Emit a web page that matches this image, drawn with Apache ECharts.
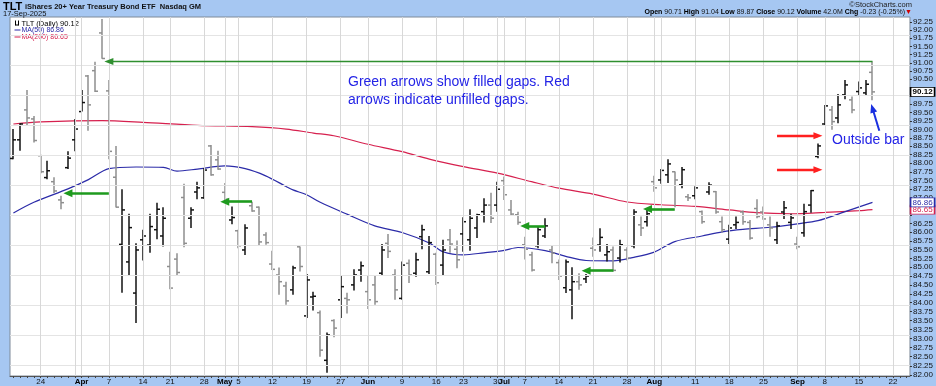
<!DOCTYPE html>
<html><head><meta charset="utf-8">
<script src="https://cdn.jsdelivr.net/npm/echarts@6/dist/echarts.min.js"></script>
<style>html,body{margin:0;padding:0;background:#fff}#c{width:936px;height:386px}</style>
</head><body><div id="c"></div>
<script>
// ---------- DATA ----------
const dates = [
'2025-03-18','2025-03-19','2025-03-20','2025-03-21','2025-03-24','2025-03-25','2025-03-26','2025-03-27','2025-03-28','2025-03-31',
'2025-04-01','2025-04-02','2025-04-03','2025-04-04','2025-04-07','2025-04-08','2025-04-09','2025-04-10','2025-04-11','2025-04-14','2025-04-15','2025-04-16','2025-04-17','2025-04-21','2025-04-22','2025-04-23','2025-04-24','2025-04-25','2025-04-28','2025-04-29','2025-04-30',
'2025-05-01','2025-05-02','2025-05-05','2025-05-06','2025-05-07','2025-05-08','2025-05-09','2025-05-12','2025-05-13','2025-05-14','2025-05-15','2025-05-16','2025-05-19','2025-05-20','2025-05-21','2025-05-22','2025-05-23','2025-05-27','2025-05-28','2025-05-29','2025-05-30',
'2025-06-02','2025-06-03','2025-06-04','2025-06-05','2025-06-06','2025-06-09','2025-06-10','2025-06-11','2025-06-12','2025-06-13','2025-06-16','2025-06-17','2025-06-18','2025-06-20','2025-06-23','2025-06-24','2025-06-25','2025-06-26','2025-06-27','2025-06-30',
'2025-07-01','2025-07-02','2025-07-03','2025-07-07','2025-07-08','2025-07-09','2025-07-10','2025-07-11','2025-07-14','2025-07-15','2025-07-16','2025-07-17','2025-07-18','2025-07-21','2025-07-22','2025-07-23','2025-07-24','2025-07-25','2025-07-28','2025-07-29','2025-07-30','2025-07-31',
'2025-08-01','2025-08-04','2025-08-05','2025-08-06','2025-08-07','2025-08-08','2025-08-11','2025-08-12','2025-08-13','2025-08-14','2025-08-15','2025-08-18','2025-08-19','2025-08-20','2025-08-21','2025-08-22','2025-08-25','2025-08-26','2025-08-27','2025-08-28','2025-08-29',
'2025-09-02','2025-09-03','2025-09-04','2025-09-05','2025-09-08','2025-09-09','2025-09-10','2025-09-11','2025-09-12','2025-09-15','2025-09-16','2025-09-17',
'2025-09-18','2025-09-19','2025-09-22','2025-09-23','2025-09-24'
];
const opens = [88.14,88.69,89.58,89.31,88.22,87.58,87.46,86.93,87.87,88.69,
89.53,90.60,90.76,91.91,90.15,87.59,85.65,85.15,84.27,85.78,85.63,86.07,85.89,85.02,85.23,87.00,86.40,87.16,86.99,88.51,88.10,
87.15,86.35,86.04,85.49,86.76,86.72,85.92,85.09,84.78,84.47,84.36,85.58,83.63,84.16,83.72,82.40,83.50,84.08,84.12,84.50,84.92,
84.31,84.50,84.83,85.68,84.78,84.12,85.11,84.83,85.87,84.87,85.37,85.06,85.78,85.51,85.95,85.78,86.12,86.59,86.78,86.78,
87.49,86.64,86.50,85.64,85.35,85.61,85.89,85.49,85.13,84.42,84.36,84.59,84.67,85.54,85.63,85.35,85.49,85.26,85.49,85.61,86.21,86.30,
87.46,87.51,87.66,87.75,87.37,87.02,87.05,86.59,87.16,87.17,86.30,85.80,86.21,86.58,86.28,86.68,86.58,86.21,85.78,86.58,86.28,
85.66,85.98,86.78,88.20,89.16,89.58,89.34,90.03,89.88,90.13,90.09,90.71];
const highs = [89.01,89.18,90.18,89.40,88.25,88.07,87.59,87.05,88.35,89.31,
90.18,90.63,91.03,92.34,90.48,88.51,87.24,86.53,85.68,86.07,86.53,86.85,86.72,85.44,85.40,87.40,86.72,87.46,87.86,88.54,88.37,
87.42,86.74,86.07,86.23,86.88,86.74,86.00,85.47,84.99,84.59,85.04,85.59,84.81,84.31,83.78,83.17,83.54,84.75,84.28,84.94,85.16,
84.75,84.75,85.66,85.95,84.94,85.16,85.22,85.41,86.21,85.89,85.41,85.78,86.09,85.76,86.43,86.66,86.53,86.98,87.14,87.46,
87.61,86.93,86.59,85.87,85.44,86.16,86.40,85.61,85.22,85.22,85.00,84.83,84.81,85.85,86.11,85.66,85.59,85.78,85.57,86.66,86.45,86.66,
87.63,87.83,88.12,87.76,87.89,87.10,87.33,86.62,87.44,87.19,86.45,86.21,86.45,86.62,86.35,86.95,86.74,86.45,86.30,86.90,86.53,
85.87,86.82,87.22,88.58,89.73,89.70,90.06,90.48,89.98,90.43,90.48,91.04];
const lows = [88.12,88.37,89.13,88.61,87.71,87.53,87.13,86.66,87.83,88.35,
89.53,88.96,90.12,91.12,88.12,86.71,84.28,84.75,83.43,85.19,85.41,85.80,85.59,84.38,84.78,85.57,86.12,86.95,86.96,87.63,87.81,
86.93,86.23,85.54,85.35,86.59,85.61,85.64,84.92,84.22,83.94,84.22,84.88,83.57,83.78,82.50,82.06,83.04,83.57,83.70,84.34,84.59,
83.82,83.94,84.78,85.26,84.08,84.08,84.55,84.73,85.51,84.81,84.50,84.75,85.41,84.97,85.44,85.47,85.83,86.28,86.26,86.59,
86.93,86.47,86.21,85.22,84.88,85.54,85.83,85.11,84.64,84.27,83.54,84.36,84.55,85.30,85.44,85.16,84.88,85.13,85.19,85.54,85.89,86.16,
87.17,87.40,87.42,86.72,87.27,86.90,86.95,86.24,87.08,86.53,85.99,85.66,86.09,86.21,85.78,86.40,86.36,85.87,85.66,86.38,86.09,
85.51,85.87,86.56,88.15,89.11,88.99,89.18,89.90,89.48,90.03,90.03,89.87];
const closes = [88.69,89.16,89.34,88.67,87.75,87.78,87.19,86.85,88.15,89.01,
89.80,89.73,90.14,91.13,88.35,86.72,86.64,86.13,85.49,85.89,86.16,86.66,86.40,84.41,84.85,85.68,86.64,87.28,87.80,87.66,87.83,
86.95,86.42,85.61,86.12,86.61,85.72,85.70,84.94,84.59,84.05,84.98,85.02,84.64,84.18,82.68,83.10,83.29,84.45,84.08,84.78,85.04,
84.08,84.03,85.49,85.45,84.36,85.06,84.78,85.21,86.07,85.70,84.56,85.49,85.66,85.21,86.30,86.40,86.50,86.78,86.40,87.24,
87.08,86.52,86.28,85.51,84.92,86.07,86.18,85.40,84.75,85.15,84.59,84.50,84.75,85.49,85.85,85.44,84.91,85.64,85.26,86.58,86.12,86.53,
87.28,87.79,87.98,87.51,87.81,86.99,87.28,86.30,87.36,86.58,86.07,86.12,86.28,86.30,85.83,86.45,86.38,86.12,86.18,86.70,86.41,
85.58,86.59,87.20,88.51,89.70,89.23,89.73,90.33,89.58,90.24,90.35,90.12];

const ma50Dates = ['2025-03-18','2025-03-21','2025-03-28','2025-04-02','2025-04-07','2025-04-11','2025-04-17','2025-04-22','2025-04-25','2025-05-01','2025-05-06','2025-05-09','2025-05-14','2025-05-15','2025-05-19','2025-05-21','2025-05-28','2025-06-03','2025-06-09','2025-06-13','2025-06-17','2025-06-23','2025-06-26','2025-07-01','2025-07-03','2025-07-10','2025-07-15','2025-07-18','2025-07-24','2025-07-29','2025-08-01','2025-08-06','2025-08-12','2025-08-15','2025-08-20','2025-08-26','2025-09-02','2025-09-05','2025-09-11','2025-09-17'];
const ma50Values = [86.55,86.86,87.25,87.52,87.84,87.89,87.88,87.77,87.83,87.92,87.84,87.63,87.32,87.22,87.08,86.86,86.51,86.18,85.99,85.69,85.44,85.35,85.41,85.48,85.56,85.47,85.31,85.19,85.18,85.28,85.43,85.73,85.89,86.01,86.08,86.14,86.24,86.33,86.59,86.86];
const ma200Dates = ['2025-03-18','2025-03-24','2025-04-04','2025-04-14','2025-04-25','2025-05-07','2025-05-14','2025-05-20','2025-05-23','2025-06-02','2025-06-09','2025-06-13','2025-06-23','2025-06-30','2025-07-08','2025-07-14','2025-07-21','2025-07-28','2025-08-04','2025-08-11','2025-08-18','2025-08-22','2025-08-29','2025-09-08','2025-09-15','2025-09-17'];
const ma200Values = [89.16,89.22,89.26,89.21,89.12,89.08,89.01,88.89,88.81,88.56,88.34,88.12,87.90,87.71,87.46,87.27,87.10,86.87,86.79,86.74,86.64,86.56,86.53,86.57,86.62,86.65];

const yTicks = [82,82.25,82.5,82.75,83,83.25,83.5,83.75,84,84.25,84.5,84.75,85,85.25,85.5,85.75,86,86.25,86.5,86.75,87,87.25,87.5,87.75,88,88.25,88.5,88.75,89,89.25,89.5,89.75,90,90.25,90.5,90.75,91,91.25,91.5,91.75,92,92.25];
const yTicksHiddenLabels = [90,90.25,86.75,86.5];
const xLabelDates = ['2025-03-24','2025-04-01','2025-04-07','2025-04-14','2025-04-21','2025-04-28','2025-05-01','2025-05-05','2025-05-12','2025-05-19','2025-05-27','2025-06-02','2025-06-09','2025-06-16','2025-06-23','2025-06-30','2025-07-01','2025-07-07','2025-07-14','2025-07-21','2025-07-28','2025-08-01','2025-08-11','2025-08-18','2025-08-25','2025-09-02','2025-09-08','2025-09-15','2025-09-22'];
const xLabelTexts = ['24','Apr','7','14','21','28','May','5','12','19','27','Jun','9','16','23','30','Jul','7','14','21','28','Aug','11','18','25','Sep','8','15','22'];

// gap arrows: [fromDate, toDate, price]
const greenArrows = [['2025-04-07','2025-03-28',87.12],['2025-05-07','2025-05-01',86.88],['2025-07-10','2025-07-07',86.18],['2025-07-24','2025-07-18',84.90],['2025-08-06','2025-07-31',86.67]];
const greenLongArrow = ['2025-09-17','2025-04-07',91.04];
const redArrows = [['2025-08-27','2025-09-05',88.81],['2025-08-27','2025-09-05',87.81]];
const blueArrow = [['2025-09-18',88.96],['2025-09-17',89.63]];

const lastClose = 90.12, lastMa50 = 86.86, lastMa200 = 86.65;

// ---------- BUILD ----------
const L = Math.log;
const idx = d => dates.indexOf(d);
const ohlc = opens.map((o,i)=>[i, L(o), L(highs[i]), L(lows[i]), L(closes[i])]);
function sparse(ds, vs){ return dates.map(d=>{const k=ds.indexOf(d); return k<0?null:L(vs[k]);}); }
const labelMap = {}; xLabelDates.forEach((d,k)=>labelMap[d]=xLabelTexts[k]);
const months = ['Apr','May','Jun','Jul','Aug','Sep'];
const vGrid = [];
for (let i=1;i<dates.length;i++){
  const a=new Date(dates[i-1]+'T00:00:00Z'), b=new Date(dates[i]+'T00:00:00Z');
  if (b.getUTCDay() < a.getUTCDay() || b.getUTCMonth()!==a.getUTCMonth() || (b-a)>3*86400000) vGrid.push(i);
}
const labelTicks = yTicks.filter(v=>yTicksHiddenLabels.indexOf(v)<0).map(L);

function renderBar(params, api){
  const i = api.value(0);
  const o=api.value(1), c=api.value(4);
  const pO=api.coord([i,o]), pH=api.coord([i,api.value(2)]), pL=api.coord([i,api.value(3)]), pC=api.coord([i,c]);
  const x = Math.round(pH[0]);
  const col = c >= o ? '#111111' : '#8e8e8e';
  const st = {stroke: col, lineWidth: 1.5};
  return {type:'group', children:[
    {type:'line', shape:{x1:x,y1:pH[1],x2:x,y2:pL[1]}, style:st},
    {type:'line', shape:{x1:x-3,y1:pO[1],x2:x,y2:pO[1]}, style:st},
    {type:'line', shape:{x1:x,y1:pC[1],x2:x+3,y2:pC[1]}, style:st}
  ]};
}

function arrowItem(x1,y1,x2,y2,color,width,size){
  return [{coord:[x1,L(y1)], symbol:'none', lineStyle:{color:color,width:width,type:'solid'}},
          {coord:[x2,L(y2)], symbol:'triangle', symbolSize:size, itemStyle:{color:color}}];
}
const arrows = [];
greenArrows.forEach(a=>arrows.push(arrowItem(idx(a[0]),a[2],idx(a[1]),a[2],'#1e9a1e',2.6,[8,9])));
arrows.push(arrowItem(idx(greenLongArrow[0]),greenLongArrow[2],idx(greenLongArrow[1]),greenLongArrow[2],'#2f8f2f',1.4,[7,9]));
redArrows.forEach(a=>arrows.push(arrowItem(idx(a[0]),a[2],idx(a[1]),a[2],'#ff2020',2.4,[7,9])));
arrows.push(arrowItem(idx(blueArrow[0][0]),blueArrow[0][1],idx(blueArrow[1][0]),blueArrow[1][1],'#1a30e0',2,[7,9]));

const lastCat = dates.length-1;
function valueBox(v,color,bold){
  return {coord:[lastCat, L(v)], symbol:'rect', symbolSize:[24,9], symbolOffset:[16,0],
    itemStyle:{color:'#ffffff', borderColor:color, borderWidth:1},
    label:{show:true, position:'inside', formatter:v.toFixed(2), fontSize:8, fontFamily:'Liberation Sans, Arial', color:color, fontWeight:bold?'bold':'normal'}};
}

const FONT = 'Liberation Sans, Arial, sans-serif';
const chart = echarts.init(document.getElementById('c'), null, {renderer:'canvas'});
chart.setOption({
  animation:false,
  backgroundColor:'#a6c7f2',
  grid:{left:10, right:25, top:17, bottom:10, show:true, backgroundColor:'#ffffff', borderColor:'#7f8a99', borderWidth:1},
  xAxis:{type:'category', data:dates, boundaryGap:true,
    axisLine:{show:true, lineStyle:{color:'#555'}},
    axisTick:{show:true, interval:0, alignWithLabel:true, length:2, lineStyle:{color:'#444'}},
    splitLine:{show:false},
    axisLabel:{interval:0, fontSize:8, fontFamily:FONT, color:'#111', margin:2,
      formatter:(v)=>{const t=labelMap[v]; if(!t) return ''; return months.indexOf(t)>=0?'{m|'+t+'}':t;},
      rich:{m:{fontWeight:'bold', fontSize:8, fontFamily:FONT, color:'#000'}}}
  },
  yAxis:{type:'value', position:'right', min:L(81.97), max:L(92.40), scale:true,
    axisLine:{show:false},
    axisTick:{show:true, length:2, customValues:yTicks.map(L), lineStyle:{color:'#333'}},
    axisLabel:{show:true, customValues:labelTicks, fontSize:8, fontFamily:FONT, color:'#111', margin:3,
      formatter:(v)=>Math.exp(v).toFixed(2)},
    splitLine:{show:false}
  },
  graphic:[
    {type:'text', left:3, top:1, style:{text:'TLT', font:'bold 11px '+FONT, fill:'#000'}},
    {type:'text', left:25, top:3, style:{text:'iShares 20+ Year Treasury Bond ETF  Nasdaq GM', font:'bold 7.5px '+FONT, fill:'#111'}},
    {type:'text', left:3, top:10, style:{text:'17-Sep-2025', font:'7.5px '+FONT, fill:'#111'}},
    {type:'text', right:24, top:1, style:{text:'\u00A9StockCharts.com', font:'7.5px '+FONT, fill:'#222'}},
    {type:'text', right:31, top:9, style:{text:'{b|Open} 90.71 {b|High} 91.04 {b|Low} 89.87 {b|Close} 90.12 {b|Volume} 42.0M {b|Chg} -0.23 (-0.25%)',
       font:'7px '+FONT, fill:'#111', rich:{b:{font:'bold 7px '+FONT, fill:'#000'}}}},
    {type:'text', right:24, top:9, style:{text:'\u25BC', font:'7px '+FONT, fill:'#d00000'}},
    {type:'group', left:12, top:18, children:[
      {type:'line', shape:{x1:1,y1:1,x2:1,y2:6}, style:{stroke:'#000',lineWidth:1}},
      {type:'line', shape:{x1:1,y1:5.5,x2:4,y2:5.5}, style:{stroke:'#000',lineWidth:1}},
      {type:'line', shape:{x1:4,y1:1,x2:4,y2:6}, style:{stroke:'#000',lineWidth:1}},
      {type:'text', x:7, y:0, style:{text:'TLT (Daily) 90.12', font:'7.5px '+FONT, fill:'#000', verticalAlign:'top'}},
      {type:'line', shape:{x1:0,y1:10.5,x2:6,y2:10.5}, style:{stroke:'#2b2ba8',lineWidth:1}},
      {type:'text', x:7, y:7, style:{text:'MA(50) 86.86', font:'7px '+FONT, fill:'#2b2ba8', verticalAlign:'top'}},
      {type:'line', shape:{x1:0,y1:17.5,x2:6,y2:17.5}, style:{stroke:'#d6204e',lineWidth:1}},
      {type:'text', x:7, y:14, style:{text:'MA(200) 86.65', font:'7px '+FONT, fill:'#d6204e', verticalAlign:'top'}}
    ]},
    {type:'text', left:348, top:75, z:10, style:{text:'Green arrows show filled gaps. Red', font:'14px '+FONT, fill:'#2424e6'}},
    {type:'text', left:348, top:93, z:10, style:{text:'arrows indicate unfilled gaps.', font:'14px '+FONT, fill:'#2424e6'}},
    {type:'text', left:832, top:133, z:10, style:{text:'Outside bar', font:'14px '+FONT, fill:'#2424e6'}}
  ],
  series:[
    {type:'line', name:'grid', data:dates.map(()=>null), z:1, silent:true, showSymbol:false,
      markLine:{silent:true, symbol:'none', animation:false, label:{show:false},
        data: yTicks.map(v=>({yAxis:L(v), lineStyle:{color:'#e4e4e4', width:1, type:'solid'}}))
          .concat(vGrid.map(i=>({xAxis:i, lineStyle:{color:'#d8d8d8', width:1, type:'solid'}})))}},
    {type:'line', name:'MA(200)', data:sparse(ma200Dates, ma200Values), connectNulls:true, smooth:0.3, showSymbol:false, z:3,
      lineStyle:{color:'#d6204e', width:1.2},
      markPoint:{silent:true, animation:false, data:[valueBox(lastMa200,'#d6204e',false)]}},
    {type:'line', name:'MA(50)', data:sparse(ma50Dates, ma50Values), connectNulls:true, smooth:0.3, showSymbol:false, z:3,
      lineStyle:{color:'#2b2ba8', width:1.2},
      markPoint:{silent:true, animation:false, data:[valueBox(lastMa50,'#2b2ba8',false)]}},
    {type:'custom', name:'TLT', data:ohlc, renderItem:renderBar, encode:{x:0, y:[1,2,3,4]}, z:4,
      markPoint:{silent:true, animation:false, data:[valueBox(lastClose,'#000000',true)]}},
    {type:'line', name:'arrows', data:dates.map(()=>null), z:6, silent:true, showSymbol:false,
      markLine:{silent:true, animation:false, label:{show:false}, data:arrows}}
  ]
});
</script></body></html>
